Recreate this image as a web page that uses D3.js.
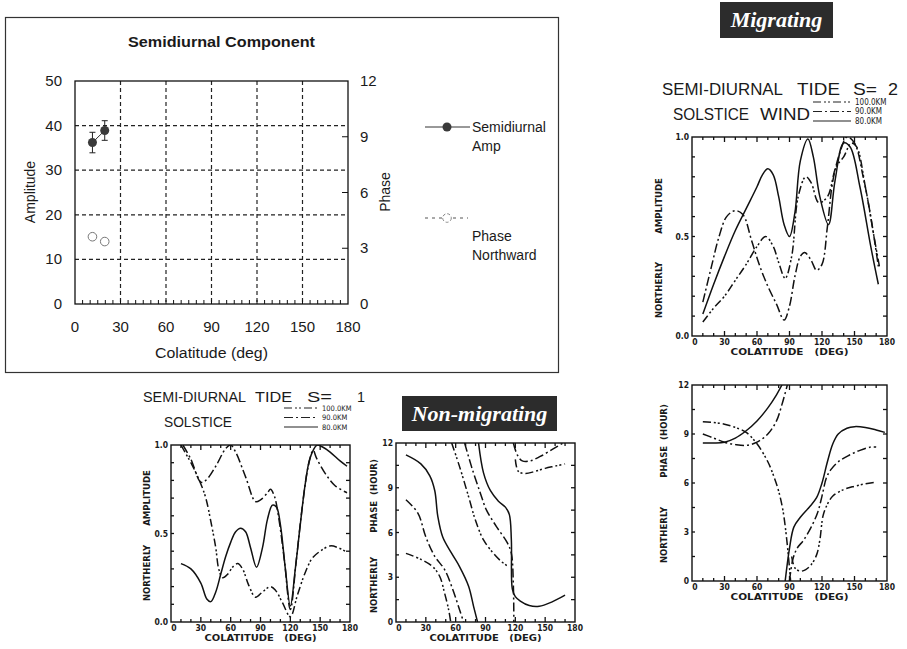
<!DOCTYPE html>
<html>
<head>
<meta charset="utf-8">
<title>Semidiurnal tide</title>
<style>
  body { margin: 0; background: #fff; }
  text { fill: #1a1a1a; white-space: pre; }
</style>
</head>
<body>
<script src="https://d3js.org/d3.v7.min.js"></script>
<script>
// ---- top-left panel (observations) ----
var obsColat = [11.5, 19.6];
var obsAmp = [36.2, 38.9];
var obsAmpErr = [2.3, 2.2];
var obsPhase = [3.62, 3.36];
var obsXTicks = [0, 30, 60, 90, 120, 150, 180];
var obsAmpTicks = [0, 10, 20, 30, 40, 50];
var obsPhaseTicks = [0, 3, 6, 9, 12];

// ---- model panels: colatitude ticks ----
var colatTicks = [0, 30, 60, 90, 120, 150, 180];
var ampTicks = [0, 0.5, 1];
var phaseTicks = [0, 3, 6, 9, 12];
var heightLabels = ["100.0KM", "90.0KM", "80.0KM"];

// migrating S=2 amplitude  [colatitude, amplitude]
var mig80Amp = [[10,0.11],[20,0.26],[30,0.40],[40,0.53],[50,0.64],[60,0.75],[65,0.81],[70,0.84],[75,0.81],[80,0.70],[85,0.56],[90,0.50],[95,0.62],[100,0.88],[107,0.99],[112,0.90],[118,0.70],[126,0.56],[132,0.78],[140,0.97],[146,0.95],[155,0.75],[165,0.45],[172,0.26]];
var mig90Amp = [[10,0.17],[18,0.35],[25,0.50],[32,0.60],[40,0.63],[47,0.61],[55,0.48],[62,0.36],[70,0.25],[78,0.16],[85,0.08],[90,0.15],[95,0.30],[100,0.40],[104,0.42],[110,0.38],[115,0.33],[120,0.36],[125,0.55],[130,0.78],[137,0.93],[143,1.00],[150,0.97],[158,0.80],[165,0.60],[172,0.35]];
var mig100Amp = [[10,0.07],[20,0.14],[30,0.20],[40,0.28],[50,0.36],[60,0.45],[68,0.50],[75,0.45],[80,0.37],[86,0.29],[92,0.40],[98,0.70],[105,0.80],[110,0.77],[117,0.67],[125,0.70],[133,0.85],[140,0.90],[147,0.97],[152,0.95],[160,0.75],[168,0.50],[173,0.35]];

// migrating S=2 phase, branches [colatitude, hour]
var mig80Phase = [
  [[10,8.45],[20,8.45],[30,8.5],[40,8.75],[50,9.2],[60,9.8],[70,10.6],[78,11.4],[83,12]],
  [[86,0],[90,2.0],[94,3.3],[100,3.9],[108,4.5],[115,5.1],[120,6.0],[125,7.3],[130,8.4],[135,9.0],[143,9.35],[150,9.45],[160,9.4],[170,9.25],[178,9.1]]
];
var mig90Phase = [
  [[10,9.0],[20,8.75],[30,8.5],[40,8.35],[50,8.3],[60,8.5],[70,9.0],[78,9.8],[83,10.8],[88,12]],
  [[90,0],[93,1.3],[97,2.0],[103,2.5],[110,3.3],[116,4.2],[120,5.2],[124,6.3],[128,6.8],[135,7.3],[145,7.7],[155,8.0],[165,8.2],[170,8.2]]
];
var mig100Phase = [
  [[10,9.75],[20,9.7],[30,9.6],[40,9.4],[50,9.1],[60,8.4],[70,7.3],[75,6.5],[80,5.5],[84,4.3],[87,2.8],[90,0.8],[91,0]],
  [[92,1.5],[95,0.8],[100,0.6],[105,0.7],[110,1.0],[115,1.6],[118,2.5],[121,4.0],[125,4.7],[130,5.2],[140,5.6],[150,5.8],[160,5.95],[170,6.05]]
];

// non-migrating S=1 amplitude
var s180Amp = [[10,0.33],[20,0.30],[30,0.22],[36,0.13],[40,0.115],[45,0.17],[50,0.27],[55,0.37],[60,0.45],[65,0.51],[70,0.53],[75,0.51],[80,0.42],[86,0.31],[92,0.42],[97,0.58],[102,0.66],[106,0.65],[110,0.55],[115,0.30],[120,0.09],[125,0.30],[130,0.55],[135,0.78],[140,0.93],[147,1.0],[152,0.99],[160,0.96],[170,0.91],[177,0.88]];
var s190Amp = [[12,1.0],[20,0.92],[30,0.79],[35,0.80],[45,0.88],[55,0.98],[60,1.0],[65,0.96],[75,0.82],[85,0.68],[90,0.69],[97,0.73],[100,0.75],[104,0.71],[108,0.60],[114,0.35],[120,0.07],[126,0.35],[132,0.65],[138,0.88],[143,0.97],[146,0.93],[155,0.84],[165,0.77],[177,0.73]];
var s1100Amp = [[10,1.0],[15,0.95],[20,0.9],[30,0.78],[35,0.70],[40,0.57],[45,0.42],[48,0.30],[52,0.25],[57,0.27],[62,0.31],[67,0.33],[72,0.30],[78,0.21],[85,0.14],[92,0.17],[100,0.20],[105,0.18],[112,0.11],[120,0.03],[127,0.15],[135,0.28],[142,0.36],[150,0.40],[160,0.43],[168,0.42],[175,0.40]];

// non-migrating S=1 phase
var s180Phase = [
  [[10,11.2],[25,10.6],[34,9.8],[39,8.8],[42,7.1],[47,5.7],[56,4.6],[64,3.7],[73,2.4],[78,1.05],[82,0]],
  [[83,12],[88,10],[95,8.8],[103,8.1],[110,7.7],[114,7.2],[116,5.5],[117,2.2],[120,1.7],[125,1.4],[134,1.1],[144,1.05],[157,1.35],[170,1.8]]
];
var s190Phase = [
  [[10,8.2],[22,7.3],[30,5.7],[39,4.4],[49,3.5],[57,2.2],[64,0.8],[68,0]],
  [[69,12],[76,10.4],[85,8.6],[91,7.5],[101,6.4],[112,5.3],[116,4.6],[118,2.5],[118.5,0]],
  [[118,12],[122,11.2],[127,10.8],[135,10.8],[145,11.1],[158,11.6],[168,12]]
];
var s1100Phase = [
  [[10,4.6],[25,4.2],[37,3.7],[44,3.05],[49,1.9],[53,0.8],[55,0]],
  [[56,12],[64,10.4],[73,8.4],[80,6.8],[88,5.5],[98,4.6],[106,4.05],[112,3.75]],
  [[120,10.9],[123,10.1],[130,9.95],[140,10.1],[150,10.3],[160,10.45],[170,10.6]]
];

var dashStyle = { s80: null, s90: "9,3,2,3", s100: "8,3,2,2,2,3" };

var svg = d3.select("body").append("svg")
  .attr("width", 907).attr("height", 649)
  .style("font-family", "Liberation Sans, Arial, sans-serif");
svg.append("rect").attr("width", 907).attr("height", 649).attr("fill", "#fff");

// ================= observation panel =================
(function() {
  svg.append("rect").attr("x", 5.5).attr("y", 17.5).attr("width", 553).attr("height", 355)
    .attr("fill", "none").attr("stroke", "#333").attr("stroke-width", 1.2);

  var x = d3.scaleLinear().domain([0, 180]).range([75, 348]);
  var yA = d3.scaleLinear().domain([0, 50]).range([304, 81]);
  var yP = d3.scaleLinear().domain([0, 12]).range([304, 81]);
  var g = svg.append("g");

  // grid
  g.selectAll(".vg").data(obsXTicks.slice(1, -1)).enter().append("line")
    .attr("x1", x).attr("x2", x).attr("y1", 81).attr("y2", 304)
    .attr("stroke", "#222").attr("stroke-dasharray", "4,3").attr("stroke-width", 1.2);
  g.selectAll(".hg").data(obsAmpTicks.slice(1, -1)).enter().append("line")
    .attr("x1", 75).attr("x2", 348).attr("y1", yA).attr("y2", yA)
    .attr("stroke", "#222").attr("stroke-dasharray", "4,3").attr("stroke-width", 1.2);
  g.append("rect").attr("x", 75).attr("y", 81).attr("width", 273).attr("height", 223)
    .attr("fill", "none").attr("stroke", "#111").attr("stroke-width", 1.3);

  // minor ticks bottom
  g.selectAll(".mt").data(d3.range(5, 180, 5)).enter().append("line")
    .attr("x1", x).attr("x2", x).attr("y1", 304).attr("y2", 300)
    .attr("stroke", "#111");
  // right ticks
  g.selectAll(".rt").data(obsPhaseTicks.slice(1, -1)).enter().append("line")
    .attr("x1", 342).attr("x2", 348).attr("y1", yP).attr("y2", yP).attr("stroke", "#111");

  g.selectAll(".xl").data(obsXTicks).enter().append("text")
    .attr("x", x).attr("y", 332).attr("text-anchor", "middle")
    .attr("font-size", 15).text(function(d) { return d; });
  g.selectAll(".yl").data(obsAmpTicks).enter().append("text")
    .attr("x", 62).attr("y", function(d) { return yA(d) + 5; }).attr("text-anchor", "end")
    .attr("font-size", 15).text(function(d) { return d; });
  g.selectAll(".pl").data(obsPhaseTicks).enter().append("text")
    .attr("x", 360).attr("y", function(d) { return yP(d) + 5; })
    .attr("font-size", 15).text(function(d) { return d; });

  g.append("text").attr("x", 128).attr("y", 47)
    .attr("font-size", 14).attr("font-weight", "bold")
    .attr("textLength", 187).attr("lengthAdjust", "spacingAndGlyphs").text("Semidiurnal Component");
  g.append("text").attr("x", 155).attr("y", 358)
    .attr("font-size", 14).attr("textLength", 113).attr("lengthAdjust", "spacingAndGlyphs")
    .text("Colatitude (deg)");
  g.append("text").attr("transform", "translate(35,192) rotate(-90)").attr("text-anchor", "middle")
    .attr("font-size", 14).text("Amplitude");
  g.append("text").attr("transform", "translate(390,192) rotate(-90)").attr("text-anchor", "middle")
    .attr("font-size", 14).text("Phase");

  // amplitude points with error bars
  var pts = obsColat.map(function(c, i) { return { c: c, a: obsAmp[i], e: obsAmpErr[i], p: obsPhase[i] }; });
  g.append("path").datum(pts)
    .attr("d", d3.line().x(function(d) { return x(d.c); }).y(function(d) { return yA(d.a); }))
    .attr("fill", "none").attr("stroke", "#333");
  pts.forEach(function(d) {
    var cx = x(d.c);
    g.append("line").attr("x1", cx).attr("x2", cx).attr("y1", yA(d.a - d.e)).attr("y2", yA(d.a + d.e)).attr("stroke", "#222");
    [d.a - d.e, d.a + d.e].forEach(function(v) {
      g.append("line").attr("x1", cx - 3).attr("x2", cx + 3).attr("y1", yA(v)).attr("y2", yA(v)).attr("stroke", "#222");
    });
    g.append("circle").attr("cx", cx).attr("cy", yA(d.a)).attr("r", 4.5).attr("fill", "#3a3a3a");
    g.append("circle").attr("cx", cx).attr("cy", yP(d.p)).attr("r", 4.3)
      .attr("fill", "#fff").attr("stroke", "#777").attr("stroke-width", 1);
  });

  // legend
  g.append("line").attr("x1", 425).attr("x2", 470).attr("y1", 127).attr("y2", 127).attr("stroke", "#333");
  g.append("circle").attr("cx", 447).attr("cy", 127).attr("r", 4.5).attr("fill", "#3a3a3a");
  g.append("text").attr("x", 472).attr("y", 132).attr("font-size", 14).text("Semidiurnal");
  g.append("text").attr("x", 472).attr("y", 151).attr("font-size", 14).text("Amp");
  g.append("line").attr("x1", 425).attr("x2", 468).attr("y1", 218).attr("y2", 218)
    .attr("stroke", "#555").attr("stroke-dasharray", "3,4");
  g.append("circle").attr("cx", 447).attr("cy", 218).attr("r", 4.3)
    .attr("fill", "#fff").attr("stroke", "#888").attr("stroke-dasharray", "3,2");
  g.append("text").attr("x", 472).attr("y", 241).attr("font-size", 14).text("Phase");
  g.append("text").attr("x", 472).attr("y", 260).attr("font-size", 14).text("Northward");
})();

// ================= model panels =================
var panelId = 0;
function modelPanel(opt) {
  var id = "clip" + (panelId++);
  var x = d3.scaleLinear().domain([0, 180]).range([opt.x0, opt.x1]);
  var y = d3.scaleLinear().domain(opt.yDomain).range([opt.y1, opt.y0]);
  var g = svg.append("g").style("font-family", "DejaVu Sans Condensed, DejaVu Sans, sans-serif");

  g.append("clipPath").attr("id", id).append("rect")
    .attr("x", opt.x0).attr("y", opt.y0).attr("width", opt.x1 - opt.x0).attr("height", opt.y1 - opt.y0);

  // inward ticks on four sides
  var xt = d3.range(10, 180, 10);
  g.selectAll(".tb").data(xt).enter().append("line")
    .attr("x1", x).attr("x2", x).attr("y1", opt.y1).attr("y2", function(d) { return opt.y1 - (d % 30 ? 3 : 5); })
    .attr("stroke", "#111").attr("stroke-width", 1.3);
  g.selectAll(".tt").data(xt).enter().append("line")
    .attr("x1", x).attr("x2", x).attr("y1", opt.y0).attr("y2", function(d) { return opt.y0 + (d % 30 ? 3 : 5); })
    .attr("stroke", "#111").attr("stroke-width", 1.3);
  var yt = d3.range(1, opt.minorCount).map(function(i) { return opt.yDomain[1] * i / opt.minorCount; });
  g.selectAll(".tl").data(yt).enter().append("line")
    .attr("x1", opt.x0).attr("x2", opt.x0 + 3).attr("y1", y).attr("y2", y).attr("stroke", "#111").attr("stroke-width", 1.3);
  g.selectAll(".tr").data(yt).enter().append("line")
    .attr("x1", opt.x1).attr("x2", opt.x1 - 4).attr("y1", y).attr("y2", y).attr("stroke", "#111").attr("stroke-width", 1.3);

  g.append("rect").attr("x", opt.x0).attr("y", opt.y0)
    .attr("width", opt.x1 - opt.x0).attr("height", opt.y1 - opt.y0)
    .attr("fill", "none").attr("stroke", "#111").attr("stroke-width", 1.4);

  g.selectAll(".xl").data(colatTicks).enter().append("text")
    .attr("x", function(d, i) { return x(d) + (i === 0 ? 3 : 0); }).attr("y", opt.y1 + 9)
    .attr("text-anchor", "middle").attr("font-size", 8.5).attr("font-weight", "bold")
    .text(function(d) { return d; });
  g.selectAll(".yl").data(opt.yTicks).enter().append("text")
    .attr("x", opt.x0 - 3).attr("y", function(d) { return y(d) + 3; })
    .attr("text-anchor", "end").attr("font-size", 8.5).attr("font-weight", "bold")
    .text(opt.yFormat);

  g.append("text").attr("x", (opt.x0 + opt.x1) / 2).attr("y", opt.y1 + 19)
    .attr("text-anchor", "middle").attr("font-size", 9.5).attr("font-weight", "bold")
    .attr("textLength", opt.xLabLen || 100).attr("lengthAdjust", "spacingAndGlyphs")
    .text("COLATITUDE   (DEG)");
  opt.yLabels.forEach(function(l) {
    g.append("text").attr("transform", "translate(" + opt.yLabX + "," + l.y + ") rotate(-90)")
      .attr("text-anchor", "middle").attr("font-size", 9.5).attr("font-weight", "bold")
      .text(l.t);
  });

  var line = d3.line().x(function(d) { return x(d[0]); }).y(function(d) { return y(d[1]); })
    .curve(d3.curveCatmullRom.alpha(0.5));
  var lines = g.append("g").attr("clip-path", "url(#" + id + ")");
  opt.series.forEach(function(s) {
    lines.selectAll(null).data(s.branches).enter().append("path")
      .attr("d", line).attr("fill", "none").attr("stroke", "#111")
      .attr("stroke-width", 1.5).attr("stroke-dasharray", s.dash);
  });
}

var fmtAmp = function(d) { return d3.format(".1f")(d); };
var fmtHour = function(d) { return d; };

modelPanel({ x0: 692, x1: 887, y0: 137, y1: 336, yDomain: [0, 1], yTicks: ampTicks, yFormat: fmtAmp,
  minorCount: 10, xLabLen: 118, yLabX: 662,
  yLabels: [{ t: "AMPLITUDE", y: 206 }, { t: "NORTHERLY", y: 290 }],
  series: [{ branches: [mig80Amp], dash: dashStyle.s80 }, { branches: [mig90Amp], dash: dashStyle.s90 },
           { branches: [mig100Amp], dash: dashStyle.s100 }] });
modelPanel({ x0: 692, x1: 887, y0: 385, y1: 581, yDomain: [0, 12], yTicks: phaseTicks, yFormat: fmtHour,
  minorCount: 8, xLabLen: 118, yLabX: 667,
  yLabels: [{ t: "PHASE  (HOUR)", y: 441 }, { t: "NORTHERLY", y: 535 }],
  series: [{ branches: mig80Phase, dash: dashStyle.s80 }, { branches: mig90Phase, dash: dashStyle.s90 },
           { branches: mig100Phase, dash: dashStyle.s100 }] });
modelPanel({ x0: 171, x1: 350, y0: 445, y1: 622, yDomain: [0, 1], yTicks: ampTicks, yFormat: fmtAmp,
  minorCount: 10, xLabLen: 112, yLabX: 150,
  yLabels: [{ t: "AMPLITUDE", y: 498 }, { t: "NORTHERLY", y: 573 }],
  series: [{ branches: [s180Amp], dash: dashStyle.s80 }, { branches: [s190Amp], dash: dashStyle.s90 },
           { branches: [s1100Amp], dash: dashStyle.s100 }] });
modelPanel({ x0: 396, x1: 575, y0: 443, y1: 622, yDomain: [0, 12], yTicks: phaseTicks, yFormat: fmtHour,
  minorCount: 8, xLabLen: 112, yLabX: 377,
  yLabels: [{ t: "PHASE  (HOUR)", y: 496 }, { t: "NORTHERLY", y: 585 }],
  series: [{ branches: s180Phase, dash: dashStyle.s80 }, { branches: s190Phase, dash: dashStyle.s90 },
           { branches: s1100Phase, dash: dashStyle.s100 }] });

// ---- titles and legends of model panels ----
// pieces: [text, x, width, baseline]
function tideTitle(pieces, fs, lx, ly, lw, lfs) {
  var g = svg.append("g");
  pieces.forEach(function(p) {
    g.append("text").attr("x", p[1]).attr("y", p[3]).attr("font-size", fs)
      .attr("textLength", p[2]).attr("lengthAdjust", "spacingAndGlyphs").text(p[0]);
  });
  var dashes = [dashStyle.s100, dashStyle.s90, dashStyle.s80];
  heightLabels.forEach(function(l, i) {
    var yy = ly + i * 9.5;
    g.append("line").attr("x1", lx).attr("x2", lx + lw).attr("y1", yy).attr("y2", yy)
      .attr("stroke", "#222").attr("stroke-width", 1.2).attr("stroke-dasharray", dashes[i]);
    g.append("text").attr("x", lx + lw + 4).attr("y", yy + 2.5).attr("font-size", lfs)
      .style("font-family", "DejaVu Sans Condensed, sans-serif").text(l);
  });
}
tideTitle([["SEMI-DIURNAL", 662, 121, 95], ["TIDE", 797, 43, 95], ["S=", 853, 24, 95], ["2", 888, 10, 95],
           ["SOLSTICE", 673, 76, 120], ["WIND", 760, 50, 120]], 16.5, 813, 102, 38, 8);
tideTitle([["SEMI-DIURNAL", 143, 103, 402], ["TIDE", 255, 37, 402], ["S=", 307, 25, 402], ["1", 357, 8, 402],
           ["SOLSTICE", 164, 68, 427]], 15.5, 284, 408, 34, 7.5);

// ---- dark label boxes ----
function darkLabel(txt, x, y, w, h, fs) {
  svg.append("rect").attr("x", x).attr("y", y).attr("width", w).attr("height", h).attr("fill", "#2c2c2c");
  svg.append("text").attr("x", x + w / 2).attr("y", y + h / 2 + fs * 0.33).attr("text-anchor", "middle")
    .attr("font-size", fs).attr("font-weight", "bold").attr("font-style", "italic")
    .style("font-family", "Liberation Serif, serif").style("fill", "#fff").text(txt);
}
darkLabel("Migrating", 720, 2, 113, 36, 22);
darkLabel("Non-migrating", 402, 396, 155, 35, 22);
</script>
</body>
</html>
